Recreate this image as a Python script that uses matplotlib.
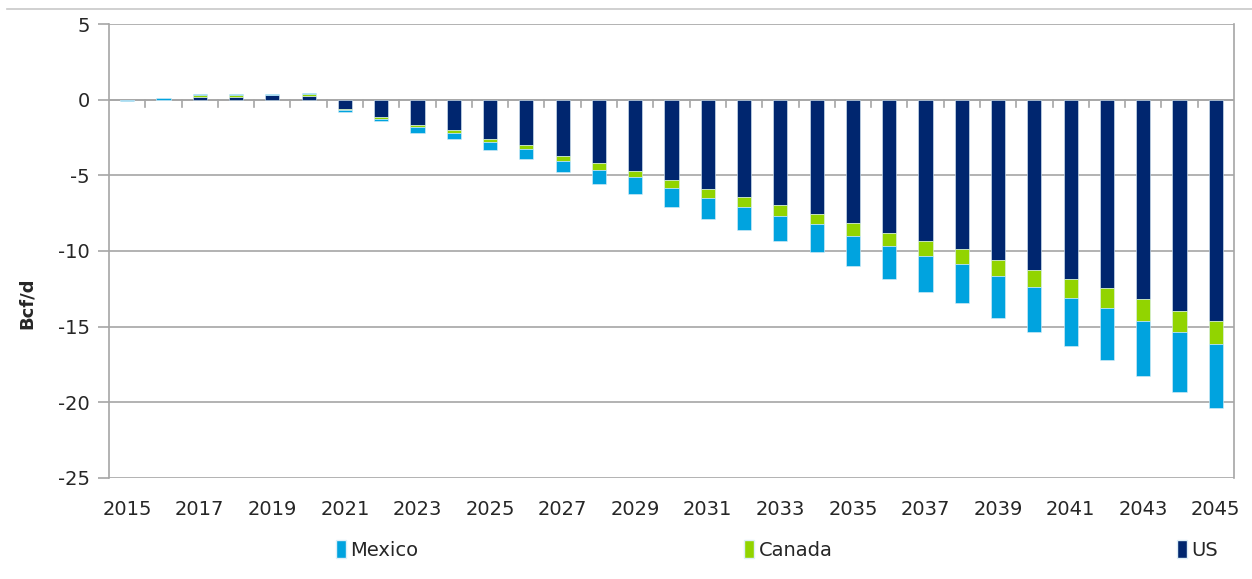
import numpy as np
import matplotlib.pyplot as plt
from matplotlib.patches import Patch
from matplotlib.lines import Line2D

plt.rcParams['font.family'] = ['DejaVu Sans']

years = list(range(2015, 2046))
us = [0, 0, 0.2, 0.2, 0.28, 0.25, -0.62, -1.15, -1.65, -2.0, -2.6, -3.02, -3.70,
      -4.20, -4.71, -5.31, -5.93, -6.44, -6.95, -7.54, -8.14, -8.81, -9.32, -9.89,
      -10.57, -11.23, -11.83, -12.42, -13.19, -13.94, -14.60]
canada = [0, 0, 0.1, 0.1, 0.02, 0.12, -0.05, -0.13, -0.18, -0.18, -0.18, -0.26, -0.35,
          -0.45, -0.43, -0.51, -0.57, -0.66, -0.75, -0.67, -0.84, -0.84, -0.99, -0.99,
          -1.08, -1.17, -1.25, -1.35, -1.41, -1.43, -1.54]
mexico = [-0.1, 0.1, 0.1, 0.1, 0.1, 0.1, -0.14, -0.13, -0.35, -0.4, -0.57, -0.66, -0.73,
          -0.93, -1.1, -1.28, -1.38, -1.53, -1.61, -1.86, -2.02, -2.2, -2.37, -2.53,
          -2.80, -2.97, -3.22, -3.45, -3.64, -3.97, -4.21]
yticks = [5, 0, -5, -10, -15, -20, -25]

c_us = '#00266F'
c_ca = '#92D400'
c_mx = '#00A3DF'
grid_c = '#A6A6A6'
text_c = '#262626'
fs = 14

W, H = 1252, 579
fig = plt.figure(figsize=(W / 100, H / 100), dpi=100)
ax = fig.add_axes([109 / W, 1 - 478 / H, (1234 - 109) / W, (478 - 24) / H])

x = np.arange(len(years))
pos_base = np.zeros(len(years))
neg_base = np.zeros(len(years))
# stack US first, then Canada, then Mexico (positives up, negatives down)
for vals, col in [(us, c_us), (canada, c_ca), (mexico, c_mx)]:
    v = np.array(vals, dtype=float)
    base = np.where(v >= 0, pos_base, neg_base)
    ax.bar(x, v, bottom=base, width=0.39, color=col, edgecolor='#DDEFF8',
           linewidth=0.4, zorder=3)
    pos_base += np.where(v > 0, v, 0)
    neg_base += np.where(v < 0, v, 0)

ax.set_xlim(-0.5, len(years) - 0.5)
ax.set_ylim(-25, 5)
ax.set_yticks(yticks)
ax.set_yticklabels([str(t) for t in yticks])
for t in yticks:
    ax.axhline(t, color=grid_c, lw=1.2, zorder=1)

# category axis crosses at zero with tick marks between the bars
ax.axhline(0, color=grid_c, lw=1.2, zorder=2)
for b in x[:-1] + 0.5:
    ax.plot([b, b], [0, -0.5], color=grid_c, lw=1.2, zorder=2)

ax.set_xticks(x[::2])
ax.set_xticklabels([str(y) for y in years[::2]])
ax.tick_params(axis='x', length=0, pad=16, labelsize=fs, colors=text_c)
ax.tick_params(axis='y', length=8, width=1.2, color=grid_c, pad=6,
               labelsize=fs, labelcolor=text_c)

for s in ['top', 'bottom']:
    ax.spines[s].set_visible(False)
for s in ['left', 'right']:
    ax.spines[s].set_color(grid_c)
    ax.spines[s].set_linewidth(1.2)

ax.set_ylabel('Bcf/d', fontsize=13, fontweight='bold', color=text_c)
ax.yaxis.set_label_coords(-0.065, 0.385)

# outer chart frame
fig.add_artist(Line2D([7 / W, 1], [1 - 9 / H, 1 - 9 / H], color='#C8C8C8', lw=1.2,
                      transform=fig.transFigure))

for label, col, xp in [('Mexico', c_mx, 336), ('Canada', c_ca, 744), ('US', c_us, 1177)]:
    fig.legend(handles=[Patch(facecolor=col, edgecolor='#DDEFF8')], labels=[label],
               loc='center left', bbox_to_anchor=(xp / W, 1 - 550 / H), frameon=False,
               handlelength=0.5, handleheight=1.0, handletextpad=0.25,
               borderpad=0, borderaxespad=0, fontsize=fs, labelcolor=text_c)

fig.savefig('out.png', dpi=100)
